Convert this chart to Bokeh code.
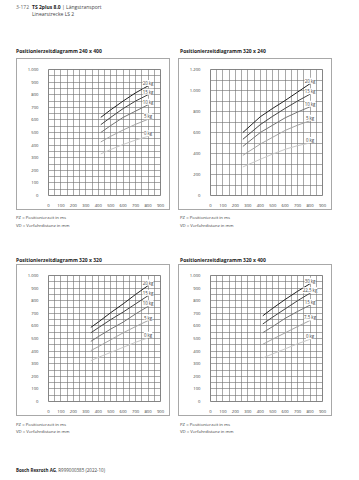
import math
from bokeh.plotting import figure
from bokeh.models import Div, Spacer, FixedTicker, Label, Range1d, CustomJSTickFormatter
from bokeh.layouts import column, row
from bokeh.embed import file_html
from bokeh.resources import INLINE
from bokeh.core.properties import value

FONT = "Open Sans"

# ---------------- data ----------------
titles = ["Positionierzeitdiagramm 240 x 400", "Positionierzeitdiagramm 320 x 240",
          "Positionierzeitdiagramm 320 x 320", "Positionierzeitdiagramm 320 x 400"]

x_ticks = [0, 100, 200, 300, 400, 500, 600, 700, 800, 900]
x_grid = [0, 50, 100, 150, 200, 250, 300, 350, 400, 450, 500, 550, 600, 650, 700, 750, 800, 850, 900]
y_ticks_1000 = [0, 100, 200, 300, 400, 500, 600, 700, 800, 900, 1000]
y_grid_1000 = [v * 50 for v in range(21)]
y_ticks_1200 = [0, 200, 400, 600, 800, 1000, 1200]
y_grid_1200 = [v * 100 for v in range(13)]

# 240 x 400
c1_vd = [420, 500, 600, 700, 800]
c1_20kg = [620, 680, 750, 815, 870]
c1_15kg = [562, 620, 690, 750, 800]
c1_10kg = [500, 555, 620, 670, 720]
c1_5kg = [425, 470, 520, 565, 605]
c1_0kg = [330, 365, 405, 440, 470]
c1_labels = ["20 kg", "15 kg", "10 kg", "5 kg", "0 kg"]

# 320 x 240
c2_vd = [260, 400, 500, 600, 700, 800]
c2_20kg = [600, 750, 830, 905, 985, 1065]
c2_15kg = [535, 675, 755, 830, 900, 965]
c2_10kg = [467, 600, 670, 740, 795, 845]
c2_5kg = [382, 490, 555, 620, 670, 712]
c2_0kg = [272, 345, 395, 440, 475, 500]
c2_labels = ["20 kg", "15 kg", "10 kg", "5 kg", "0 kg"]

# 320 x 320
c3_vd = [340, 400, 500, 600, 700, 800]
c3_20kg = [588, 630, 705, 775, 850, 920]
c3_15kg = [545, 585, 650, 710, 775, 840]
c3_10kg = [477, 515, 575, 630, 695, 755]
c3_5kg = [404, 435, 490, 545, 595, 642]
c3_0kg = [324, 350, 390, 430, 470, 505]
c3_labels = ["20 kg", "15 kg", "10 kg", "5 kg", "0 kg"]

# 320 x 400
c4_vd = [420, 500, 600, 700, 800]
c4_30kg = [680, 740, 810, 875, 935]
c4_22kg = [615, 670, 735, 800, 860]
c4_15kg = [546, 595, 660, 715, 765]
c4_7kg = [454, 495, 545, 595, 643]
c4_0kg = [345, 378, 418, 458, 494]
c4_labels = ["30 kg", "22,5 kg", "15 kg", "7,5 kg", "0 kg"]

line_colors = ["#222222", "#444444", "#747474", "#a4a4a4", "#c8c8c8"]


def make_chart(vd, series, labels, y_max, y_ticks, y_grid):
    p = figure(width=154, height=152, x_range=Range1d(0, 900), y_range=Range1d(0, y_max),
               output_backend="svg", toolbar_location=None,
               min_border_left=31, min_border_right=11, min_border_top=10, min_border_bottom=16,
               background_fill_color="white", border_fill_color="white", margin=0,
               styles={"border": "1px solid #a8a8a8"})
    p.xaxis.ticker = FixedTicker(ticks=x_ticks)
    p.yaxis.ticker = FixedTicker(ticks=y_ticks)
    p.xgrid.ticker = FixedTicker(ticks=x_grid)
    p.ygrid.ticker = FixedTicker(ticks=y_grid)
    for ax in (p.xaxis[0], p.yaxis[0]):
        ax.axis_line_color = None
        ax.major_tick_line_color = None
        ax.minor_tick_line_color = None
        ax.major_label_text_font = FONT
        ax.major_label_text_font_size = "4.2px"
        ax.major_label_text_color = "#3a3a3a"
    p.yaxis.major_label_standoff = 4
    p.xaxis.major_label_standoff = 2
    p.yaxis.formatter = CustomJSTickFormatter(code="""
        return tick >= 1000 ? Math.floor(tick/1000) + '.' + String(tick % 1000).padStart(3, '0') : String(tick);
    """)
    p.grid.grid_line_color = "#6e6e6e"
    p.grid.grid_line_width = 0.6
    p.outline_line_color = "#666666"
    p.outline_line_width = 0.8

    for ys, lab, col in zip(series, labels, line_colors):
        p.line(vd, ys, line_color=col, line_width=1)
        p.text(x=[vd[-1]], y=[ys[-1]], text=[lab], text_font=value(FONT), text_font_size="4.4px",
               text_color="#444444", text_align="center", text_baseline="bottom",
               background_fill_color="white")

    p.add_layout(Label(x=900, y=0, text="VD (mm)", text_align="right", text_baseline="top",
                       y_offset=-7, text_font=FONT, text_font_size="4.2px", text_color="#3a3a3a"))
    p.add_layout(Label(x=0, y=y_max, text="PZ (ms)", angle=math.pi / 2, text_align="right",
                       text_baseline="bottom", x_offset=-23, y_offset=9, text_font=FONT,
                       text_font_size="4.2px", text_color="#3a3a3a"))
    p.add_layout(Label(x=0, y=0, text="——", text_align="left", text_baseline="middle",
                       x_offset=-26, y_offset=-9, text_font=FONT, text_font_size="3px",
                       text_color="#777777"))
    return p


ch1 = make_chart(c1_vd, [c1_20kg, c1_15kg, c1_10kg, c1_5kg, c1_0kg], c1_labels, 1000, y_ticks_1000, y_grid_1000)
ch2 = make_chart(c2_vd, [c2_20kg, c2_15kg, c2_10kg, c2_5kg, c2_0kg], c2_labels, 1200, y_ticks_1200, y_grid_1200)
ch3 = make_chart(c3_vd, [c3_20kg, c3_15kg, c3_10kg, c3_5kg, c3_0kg], c3_labels, 1000, y_ticks_1000, y_grid_1000)
ch4 = make_chart(c4_vd, [c4_30kg, c4_22kg, c4_15kg, c4_7kg, c4_0kg], c4_labels, 1000, y_ticks_1000, y_grid_1000)

BASE = f"font-family:'{FONT}';color:#333;"
W = 351


def div(html, h):
    return Div(text=html, width=W, height=h, margin=0, styles={"font-family": FONT})


header = div(
    f"<div style=\"{BASE}position:relative;width:{W}px;height:44px;\">"
    f"<div style=\"position:absolute;left:16px;top:3.5px;font-size:5px;line-height:7.5px;color:#444;white-space:nowrap\">"
    f"<span style=\"display:inline-block;width:16px;color:#666\">3-172</span><b style=\"color:#222\">TS 2plus 8.0</b> | Längstransport<br>"
    f"<span style=\"display:inline-block;width:16px\"></span>Linearstrecke LS 2</div></div>", 44)


def title_row(t1, t2, h, top):
    return div(
        f"<div style=\"{BASE}position:relative;width:{W}px;height:{h}px;font-size:5px;line-height:7px;font-weight:bold;color:#222;\">"
        f"<div style=\"position:absolute;left:16px;top:{top}px;white-space:nowrap\">{t1}</div>"
        f"<div style=\"position:absolute;left:180px;top:{top}px;white-space:nowrap\">{t2}</div></div>", h)


def note_row(h, top):
    txt = "PZ = Positionierzeit in ms<br>VD = Verfahrdistanz in mm"
    return div(
        f"<div style=\"{BASE}position:relative;width:{W}px;height:{h}px;font-size:4.3px;line-height:7.5px;color:#444;\">"
        f"<div style=\"position:absolute;left:16px;top:{top}px;white-space:nowrap\">{txt}</div>"
        f"<div style=\"position:absolute;left:180px;top:{top}px;white-space:nowrap\">{txt}</div></div>", h)


footer = div(
    f"<div style=\"{BASE}position:relative;width:{W}px;height:10px;font-size:4.5px;line-height:7px;color:#444;\">"
    f"<div style=\"position:absolute;left:16px;top:3.5px;white-space:nowrap\"><b style=\"color:#222\">Bosch Rexroth AG</b>, R999000385 (2022-10)</div></div>", 10)


def chart_row(a, b):
    return row(Spacer(width=16, height=154, margin=0), a, Spacer(width=8, height=154, margin=0), b,
               spacing=0, margin=0)


layout = column(
    header,
    title_row(titles[0], titles[1], 14, 3.5),
    chart_row(ch1, ch2),
    note_row(22, 2),
    Spacer(width=W, height=18, margin=0),
    title_row(titles[2], titles[3], 12, 3.5),
    chart_row(ch3, ch4),
    note_row(22, 2.5),
    Spacer(width=W, height=20, margin=0),
    footer,
    spacing=0, margin=0,
)

open("out.html", "w").write(file_html(layout, INLINE))
